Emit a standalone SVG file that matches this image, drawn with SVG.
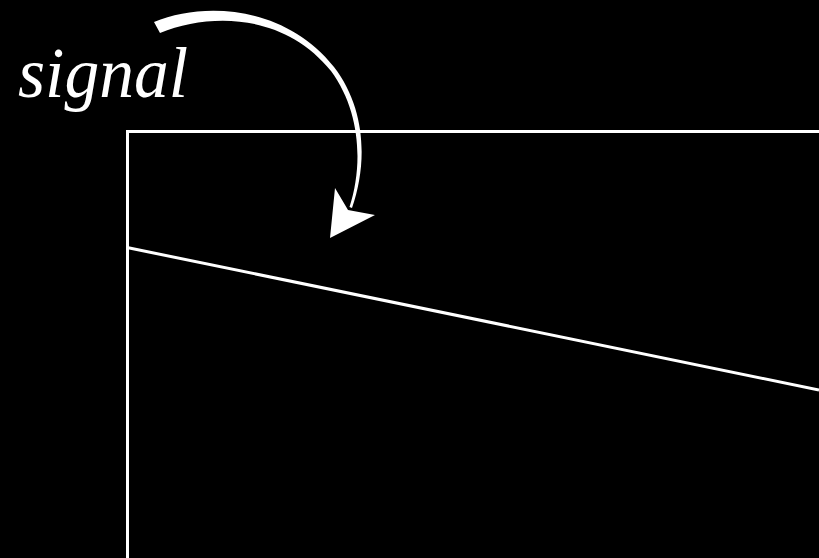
<svg xmlns="http://www.w3.org/2000/svg" width="819" height="558" viewBox="0 0 819 558">
<style>
.ln{fill:none;stroke:#fff;stroke-width:3}
.lbl{font-family:"Liberation Serif",serif;font-style:italic;fill:#fff}
</style>
<rect x="0" y="0" width="819" height="558" fill="#000"/>
<g id="box">
<path class="ln" d="M822,131.5 H127.5 V558"/>
</g>
<g id="slope">
<line class="ln" x1="127" y1="247.5" x2="819" y2="390" stroke-width="2.5"/>
</g>
<g id="label">
<text class="lbl" x="18" y="97" font-size="72" textLength="170" lengthAdjust="spacingAndGlyphs">signal</text>
</g>
<g id="connectors">
<path fill="#fff" d="M154,22 C205,1 285,6 334,67 C367,110 367,165 352,208 L349.5,207 C363,165 361,112 331,71 C285,14 212,12 160,33 Z"/>
<path fill="#fff" d="M330,238 L335,188 L348,210 L375,215 Z"/>
</g>
</svg>
